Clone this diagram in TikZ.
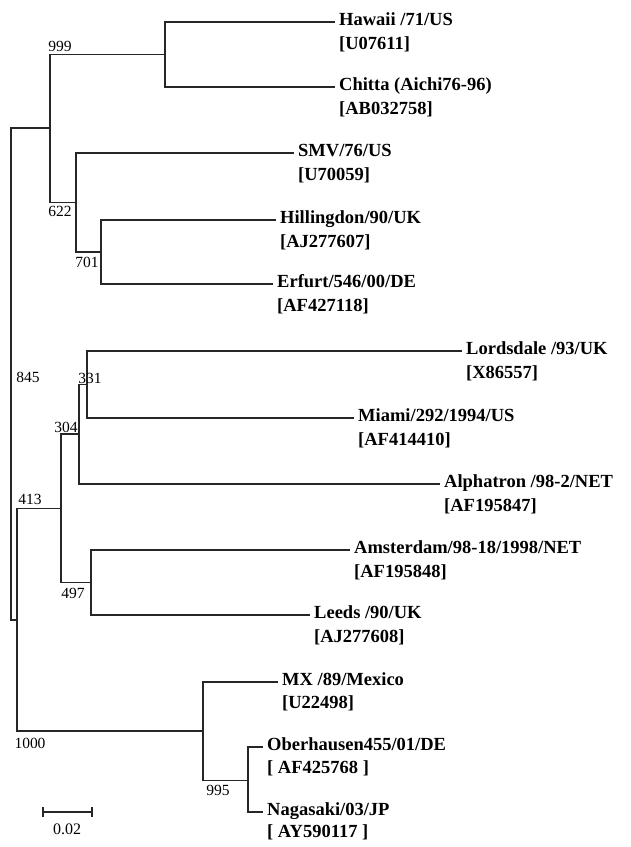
\documentclass[tikz,border=0pt]{standalone}
\usepackage{fontspec}
\setmainfont{Liberation Serif}
\begin{document}
\begin{tikzpicture}[x=1pt,y=-1pt,
  branch/.style={draw=black!85,line width=1.6pt},
  leafname/.style={anchor=west,inner xsep=4pt,inner ysep=0pt,text height=0.66em,text depth=0pt,font=\fontsize{18.5}{20}\selectfont\bfseries},
  acc/.style={anchor=west,inner xsep=4pt,inner ysep=0pt,text height=0.66em,text depth=0pt,font=\fontsize{18.5}{20}\selectfont\bfseries},
  boot/.style={inner sep=0pt,font=\fontsize{15.5}{16}\selectfont}]
\useasboundingbox (0,0) rectangle (630,847);
% internal nodes
\coordinate (HC) at (165,54.5);
\coordinate (C) at (101,252);
\coordinate (B) at (76,202.5);
\coordinate (A) at (50,128.25);
\coordinate (G) at (87,384.5);
\coordinate (F) at (79,434.25);
\coordinate (H) at (91,582.5);
\coordinate (E) at (61,508.4);
\coordinate (J) at (248,780.5);
\coordinate (I) at (203,731.25);
\coordinate (D) at (17,619.8);
\coordinate (R) at (11,374);
% leaves
\node[leafname] (hawaii) at (335,22) {Hawaii /71/US};
\node[acc] (hawaiia) at (335,46) {[U07611]};
\node[leafname] (chitta) at (335,87) {Chitta (Aichi76-96)};
\node[acc] (chittaa) at (335,111) {[AB032758]};
\node[leafname] (smv) at (294,153) {SMV/76/US};
\node[acc] (smva) at (294,177) {[U70059]};
\node[leafname] (hill) at (276,220) {Hillingdon/90/UK};
\node[acc] (hilla) at (276,244) {[AJ277607]};
\node[leafname] (erf) at (273,284) {Erfurt/546/00/DE};
\node[acc] (erfa) at (273,308) {[AF427118]};
\node[leafname] (lords) at (462,351) {Lordsdale /93/UK};
\node[acc] (lordsa) at (462,375) {[X86557]};
\node[leafname] (miami) at (354,418) {Miami/292/1994/US};
\node[acc] (miamia) at (354,442) {[AF414410]};
\node[leafname] (alpha) at (440,484) {Alphatron /98-2/NET};
\node[acc] (alphaa) at (440,508) {[AF195847]};
\node[leafname] (amst) at (350,550) {Amsterdam/98-18/1998/NET};
\node[acc] (amsta) at (350,574) {[AF195848]};
\node[leafname] (leeds) at (310,615) {Leeds /90/UK};
\node[acc] (leedsa) at (310,639) {[AJ277608]};
\node[leafname] (mx) at (278,682) {MX /89/Mexico};
\node[acc] (mxa) at (278,705) {[U22498]};
\node[leafname] (ober) at (263,747) {Oberhausen455/01/DE};
\node[acc] (obera) at (263,770) {[ AF425768 ]};
\node[leafname] (naga) at (263,812) {Nagasaki/03/JP};
\node[acc] (nagaa) at (263,834) {[ AY590117 ]};
% branches
\draw[branch] (R) |- (A);
\draw[branch] (R) |- (D);
\draw[branch] (A) |- (HC);
\draw[branch] (A) |- (B);
\draw[branch] (HC) |- (hawaii.west);
\draw[branch] (HC) |- (chitta.west);
\draw[branch] (B) |- (smv.west);
\draw[branch] (B) |- (C);
\draw[branch] (C) |- (hill.west);
\draw[branch] (C) |- (erf.west);
\draw[branch] (D) |- (E);
\draw[branch] (D) |- (I);
\draw[branch] (E) |- (F);
\draw[branch] (E) |- (H);
\draw[branch] (F) |- (G);
\draw[branch] (F) |- (alpha.west);
\draw[branch] (G) |- (lords.west);
\draw[branch] (G) |- (miami.west);
\draw[branch] (H) |- (amst.west);
\draw[branch] (H) |- (leeds.west);
\draw[branch] (I) |- (mx.west);
\draw[branch] (I) |- (J);
\draw[branch] (J) |- (ober.west);
\draw[branch] (J) |- (naga.west);
% bootstrap values
\node[boot] (b999) at (60,46) {999};
\node[boot] (b622) at (60,211) {622};
\node[boot] (b701) at (87,262) {701};
\node[boot] (b845) at (28,377) {845};
\node[boot] (b331) at (90,378) {331};
\node[boot] (b304) at (66,427) {304};
\node[boot] (b413) at (30,499) {413};
\node[boot] (b497) at (73,593) {497};
\node[boot] (b1000) at (30,743) {1000};
\node[boot] (b995) at (218,790) {995};
% scale bar
\coordinate (s1) at (43,812);
\coordinate (s2) at (92,812);
\draw[branch] (s1) -- (s2);
\draw[branch] ([yshift=-5pt]s1) -- ([yshift=5pt]s1);
\draw[branch] ([yshift=-5pt]s2) -- ([yshift=5pt]s2);
\node[boot,font=\fontsize{16}{17}\selectfont] (scale) at (67,829) {0.02};
\end{tikzpicture}
\end{document}
